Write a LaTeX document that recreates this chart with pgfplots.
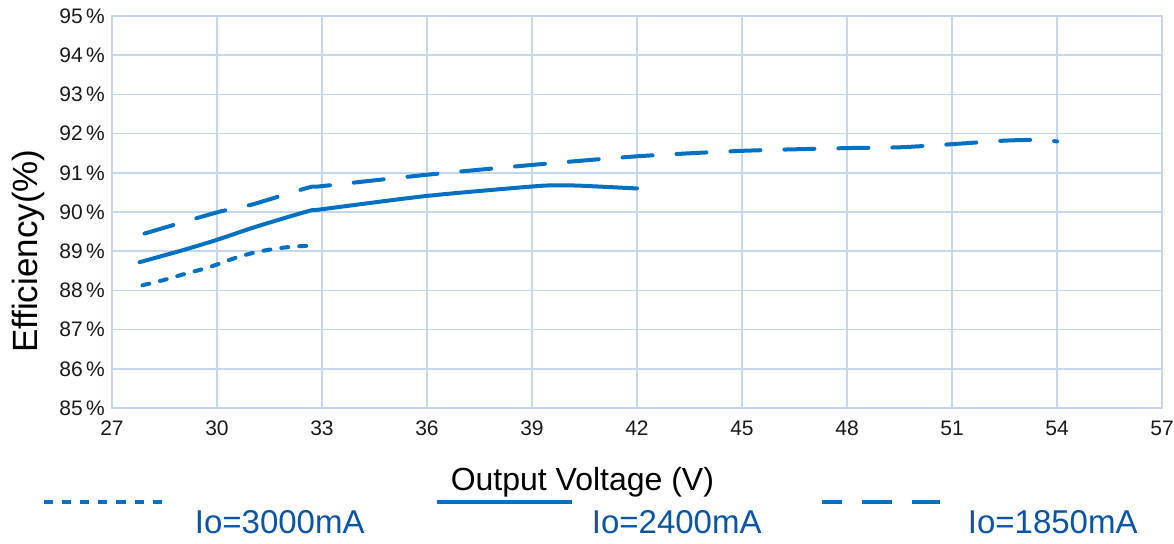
\documentclass[border=0pt]{standalone}
\usepackage{fontspec}
\setmainfont{Liberation Sans}
\usepackage{pgfplots}
\pgfplotsset{compat=1.18}
\definecolor{lineblue}{RGB}{0,112,192}
\definecolor{textblue}{RGB}{10,84,164}
\definecolor{gridblue}{RGB}{197,215,235}

\begin{document}
\begin{tikzpicture}
\useasboundingbox (-56pt,-68pt) rectangle (531pt,204pt);
\begin{axis}[at={(0,0)}, anchor=south west, scale only axis,
  width=525pt, height=196pt,
  xmin=27, xmax=57, ymin=85, ymax=95,
  xtick={27,30,...,57}, ytick={85,86,...,95},
  yticklabel={\pgfmathprintnumber{\tick}\,\%},
  /pgf/number format/assume math mode=true,
  tick label style={font=\fontsize{10.5}{12}\selectfont, black!90},
  x tick label style={yshift=-3pt},
  major tick length=0pt,
  grid=major, major grid style={gridblue, line width=0.8pt},
  axis line style={gridblue, line width=0.8pt},
  xlabel={Output Voltage (V)},
  xlabel style={font=\fontsize{16}{19}\selectfont, at={(axis description cs:0.448,-0.19)}, anchor=center},
  ylabel={Efficiency(\%)},
  ylabel style={font=\fontsize{17.5}{20}\selectfont, at={(axis description cs:-0.08,0.40)}, anchor=center, rotate=0}]
\addplot[lineblue, line width=2pt, line cap=round, smooth, tension=0.45,
  dash pattern=on 3.5pt off 5.5pt] coordinates {
  (27.87,88.13)(28.5,88.27)(29.0,88.40)(29.7,88.57)(30.0,88.66)(30.5,88.82)
  (31.0,88.95)(31.5,89.04)(32.1,89.11)(32.85,89.15)};
\addplot[lineblue, line width=2pt, line cap=round, smooth, tension=0.45] coordinates {
  (27.79,88.72)(29.0,89.02)(30.0,89.29)(31.1,89.62)(32.6,90.02)(33,90.07)
  (36,90.41)(39,90.65)(39.7,90.68)(40.4,90.67)(42,90.60)};
\addplot[lineblue, line width=2pt, line cap=round, smooth, tension=0.45,
  dash pattern=on 15pt off 12pt] coordinates {
  (27.93,89.45)(30,89.99)(31.0,90.19)(32.6,90.62)(33,90.66)(36,90.95)(39,91.2)
  (42,91.42)(45,91.56)(48,91.63)(49.5,91.65)(51,91.73)(52.5,91.82)(53.5,91.84)(54,91.80)};
\end{axis}
% legend
\draw[lineblue, line width=2pt, dash pattern=on 4.5pt off 4.5pt] (-33.75pt,-47pt) -- (28.75pt,-47pt);
\node[anchor=west, inner sep=0pt, textblue, font=\fontsize{16.5}{19}\selectfont] at (41.25pt,-57pt) {Io=3000mA};
\draw[lineblue, line width=2pt] (162.25pt,-47pt) -- (229.75pt,-47pt);
\node[anchor=west, inner sep=0pt, textblue, font=\fontsize{16.5}{19}\selectfont] at (239.75pt,-57pt) {Io=2400mA};
\draw[lineblue, line width=2pt, dash pattern=on 15pt off 10pt, dash phase=5pt] (354.75pt,-47pt) -- (413.75pt,-47pt);
\node[anchor=west, inner sep=0pt, textblue, font=\fontsize{16.5}{19}\selectfont] at (427.75pt,-57pt) {Io=1850mA};
\end{tikzpicture}
\end{document}
